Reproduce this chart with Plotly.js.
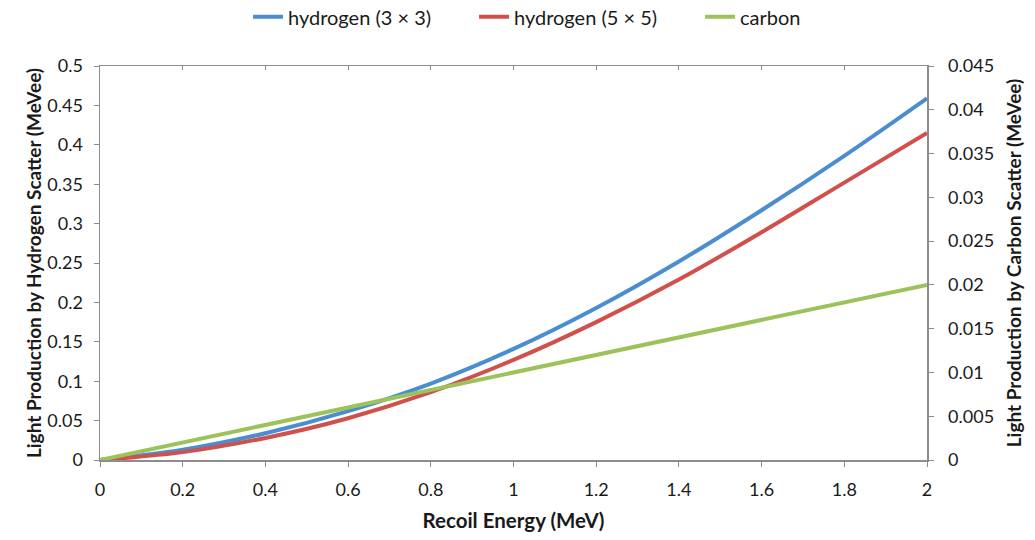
<!DOCTYPE html>
<html>
<head>
<meta charset="utf-8">
<script src="https://cdn.plot.ly/plotly-3.0.1.min.js"></script>
<style>html,body{margin:0;padding:0;background:#fff;}#chart{width:1035px;height:540px;}</style>
</head>
<body>
<div id="chart"></div>
<script>
const recoilEnergy = [0, 0.2, 0.4, 0.6, 0.8, 1.0, 1.2, 1.4, 1.6, 1.8, 2.0];
const hydrogen3x3 = [0, 0.013, 0.034, 0.062, 0.097, 0.141, 0.193, 0.252, 0.317, 0.386, 0.459];
const hydrogen5x5 = [0, 0.010, 0.028, 0.053, 0.086, 0.127, 0.175, 0.229, 0.289, 0.352, 0.415];
const carbon = [0, 0.002, 0.004, 0.006, 0.008, 0.010, 0.012, 0.014, 0.016, 0.018, 0.020];
const seriesNames = ['hydrogen (3 \u00d7 3)', 'hydrogen (5 \u00d7 5)', 'carbon'];
const leftTicks = [0, 0.05, 0.1, 0.15, 0.2, 0.25, 0.3, 0.35, 0.4, 0.45, 0.5];
const rightTicks = [0, 0.005, 0.01, 0.015, 0.02, 0.025, 0.03, 0.035, 0.04, 0.045];
const xTicks = [0, 0.2, 0.4, 0.6, 0.8, 1, 1.2, 1.4, 1.6, 1.8, 2];

const font = 'Lato, "Open Sans", sans-serif';
const axisColor = '#8c8c8c';
const textColor = '#1a1a1a';

const traces = [
  {x: recoilEnergy, y: hydrogen3x3, name: seriesNames[0], mode: 'lines', line: {color: '#4A8ED0', width: 4, shape: 'spline'}, xaxis: 'x', yaxis: 'y'},
  {x: recoilEnergy, y: hydrogen5x5, name: seriesNames[1], mode: 'lines', line: {color: '#D0504C', width: 4, shape: 'spline'}, xaxis: 'x', yaxis: 'y'},
  {x: recoilEnergy, y: carbon, name: seriesNames[2], mode: 'lines', line: {color: '#9BC359', width: 4}, xaxis: 'x', yaxis: 'y2'},
  {x: recoilEnergy, y: hydrogen3x3, mode: 'lines', line: {width: 0}, opacity: 0, showlegend: false, hoverinfo: 'skip', xaxis: 'x2', yaxis: 'y'}
];

const layout = {
  width: 1035, height: 540,
  margin: {l: 100, r: 108, t: 66, b: 80, autoexpand: false},
  paper_bgcolor: '#fff', plot_bgcolor: '#fff',
  font: {family: font, size: 18, color: textColor},
  showlegend: true,
  legend: {orientation: 'h', x: 0.179, xanchor: 'left', y: 1.125, yanchor: 'middle',
    font: {family: font, size: 20, color: textColor}, traceorder: 'normal',
    entrywidth: 181, entrywidthmode: 'pixels'},
  xaxis: {
    range: [0, 2], tickvals: xTicks, ticktext: xTicks.map(String),
    showgrid: false, zeroline: false, showline: true, linecolor: axisColor, linewidth: 1.5,
    ticks: 'outside', ticklen: 5, tickcolor: axisColor, ticklabelstandoff: 8,
    tickfont: {family: font, size: 18, color: textColor},
    title: {text: 'Recoil Energy (MeV)', font: {family: font, size: 20.5, color: textColor, weight: 'bold'}, standoff: 14}
  },
  xaxis2: {
    range: [0, 2], tickvals: xTicks, overlaying: 'x', side: 'top', anchor: 'y',
    showgrid: false, zeroline: false, showline: true, linecolor: axisColor, linewidth: 1.5,
    ticks: 'inside', ticklen: 4, tickcolor: axisColor, showticklabels: false
  },
  yaxis: {
    range: [0, 0.5], tickvals: leftTicks, ticktext: leftTicks.map(String),
    showgrid: false, zeroline: false, showline: true, linecolor: axisColor, linewidth: 1.5,
    ticks: 'outside', ticklen: 5, tickcolor: axisColor, ticklabelstandoff: 7,
    tickfont: {family: font, size: 18, color: textColor},
    title: {text: 'Light Production by Hydrogen Scatter (MeVee)', font: {family: font, size: 19, color: textColor, weight: 'bold'}, standoff: 0}
  },
  yaxis2: {
    range: [0, 0.045], tickvals: rightTicks, ticktext: rightTicks.map(String),
    overlaying: 'y', side: 'right', anchor: 'x',
    showgrid: false, zeroline: false, showline: true, linecolor: axisColor, linewidth: 1.5,
    ticks: 'outside', ticklen: 5, tickcolor: axisColor, ticklabelstandoff: 11,
    tickfont: {family: font, size: 18, color: textColor},
    title: {text: 'Light Production by Carbon Scatter (MeVee)', font: {family: font, size: 19, color: textColor, weight: 'bold'}, standoff: 14}
  }
};

Plotly.newPlot('chart', traces, layout, {displayModeBar: false, staticPlot: true});
</script>
</body>
</html>
